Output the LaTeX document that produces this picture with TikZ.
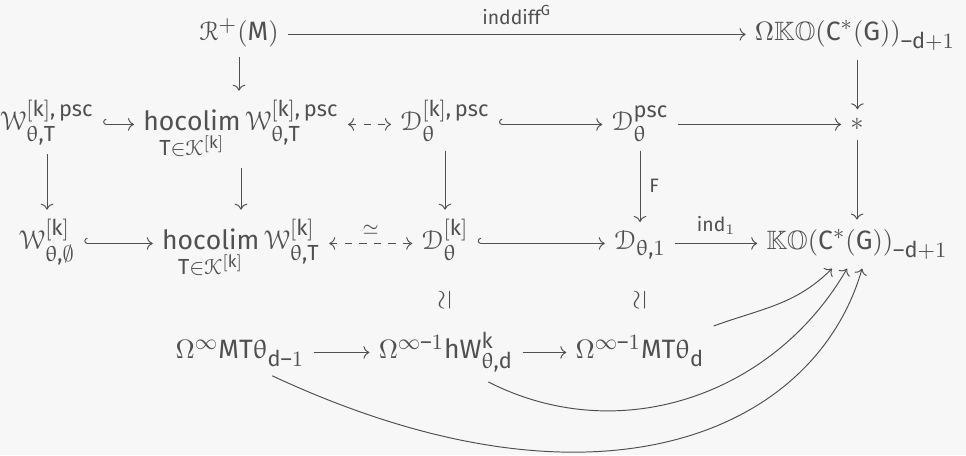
\documentclass[tikz,border=0pt,11pt]{standalone}
\usepackage{amsmath}
\usepackage{amssymb}
\usepackage[mathcal]{euscript}
\usepackage{upgreek}
\usepackage{fontspec}
\setmainfont{Fira Sans}
\usepackage{mathastext}
\usetikzlibrary{arrows.meta}
\tikzset{>={Computer Modern Rightarrow}}
\definecolor{fggray}{RGB}{80,80,80}
\definecolor{bggray}{RGB}{247,247,247}
\newcommand{\thet}{\uptheta}

\begin{document}
\begin{tikzpicture}[x=0.0145cm, y=0.0145cm, fggray,
    every node/.style={anchor=base, text=fggray},
    hk/.style={{Hooks[right]}->},
    da/.style={<->, dashed},
    lbl/.style={font=\scriptsize}]
            % Background and frame
            \fill[bggray] (0,0) rectangle (966,455);
            \useasboundingbox (0,0) rectangle (966,455);

            % Top row
            \node (rm) at (239,414) {$\mathcal{R}^+(M)$};
            \node (okg) at (855,414) {$\Omega\mathbb{KO}(C^*(G))_{-d+1}$};

            % psc row
            \node (wpsc) at (47,324) {$\mathcal{W}^{[k],\,\mathrm{psc}}_{\thet,T}$};
            \node (hpsc) at (241,324) {$\displaystyle\operatorname*{hocolim}_{T\in\mathcal{K}^{[k]}}\mathcal{W}^{[k],\,\mathrm{psc}}_{\thet,T}$};
            \node (dkpsc) at (445,324) {$\mathcal{D}^{[k],\,\mathrm{psc}}_\thet$};
            \node (dpsc) at (640,324) {$\mathcal{D}^{\mathrm{psc}}_\thet$};
            \node (pt) at (857,324) {$*$};

            % Middle row
            \node (wk) at (47,205) {$\mathcal{W}^{[k]}_{\thet,\emptyset}$};
            \node (hk) at (241,205) {$\displaystyle\operatorname*{hocolim}_{T\in\mathcal{K}^{[k]}}\mathcal{W}^{[k]}_{\thet,T}$};
            \node (dk) at (445,205) {$\mathcal{D}^{[k]}_\thet$};
            \node (d1) at (640,205) {$\mathcal{D}_{\thet,1}$};
            \node (ko) at (857,205) {$\mathbb{KO}(C^*(G))_{-d+1}$};

            % Bottom row
            \node (mtd1) at (240,96) {$\Omega^\infty MT\thet_{d-1}$};
            \node (hw) at (446,96) {$\Omega^{\infty-1}hW^k_{\thet,d}$};
            \node (mtd) at (640,96) {$\Omega^{\infty-1}MT\thet_d$};
            \node[rotate=90, anchor=center] (eqa) at (445,155) {$\simeq$};
            \node[rotate=90, anchor=center] (eqb) at (640,155) {$\simeq$};

            % Horizontal maps
            \draw[->] ([yshift=2.7pt]rm.base east) -- node[above, lbl] {$\mathrm{inddiff}^G$} ([yshift=2.7pt]okg.base west);
            \draw[hk] ([yshift=2.7pt]wpsc.base east) -- ([yshift=2.7pt]hpsc.base west);
            \draw[da] ([yshift=2.7pt]hpsc.base east) -- ([yshift=2.7pt]dkpsc.base west);
            \draw[hk] ([yshift=2.7pt]dkpsc.base east) -- ([yshift=2.7pt]dpsc.base west);
            \draw[->] ([yshift=2.7pt]dpsc.base east) -- ([yshift=2.7pt]pt.base west);
            \draw[hk] ([yshift=2.7pt]wk.base east) -- ([yshift=2.7pt]hk.base west);
            \draw[da] ([yshift=2.7pt]hk.base east) -- node[above, lbl] {$\simeq$} ([yshift=2.7pt]dk.base west);
            \draw[hk] ([yshift=2.7pt]dk.base east) -- ([yshift=2.7pt]d1.base west);
            \draw[->] ([yshift=2.7pt]d1.base east) -- node[above, lbl] {$\mathrm{ind}_1$} ([yshift=2.7pt]ko.base west);
            \draw[->] ([yshift=2.7pt]mtd1.base east) -- ([yshift=2.7pt]hw.base west);
            \draw[->] ([yshift=2.7pt]hw.base east) -- ([yshift=2.7pt]mtd.base west);

            % Vertical maps
            \draw[->] (rm.south) -- (rm.south |- hpsc.north);
            \draw[->] ([xshift=1pt]okg.south) -- ([xshift=1pt]okg.south |- pt.north);
            \draw[->] (wpsc.south) -- (wpsc.south |- wk.north);
            \draw[->] (hpsc.south) -- (hpsc.south |- hk.north);
            \draw[->] (dkpsc.south) -- (dkpsc.south |- dk.north);
            \draw[->] (dpsc.south) -- node[right, lbl] {$F$} (dpsc.south |- d1.north);
            \draw[->] (pt.south) -- (pt.south |- ko.north);

            % Curved maps into KO
            \draw[->] (mtd.north east) to[out=20, in=-135] ([xshift=-10.3pt]ko.south);
            \draw[->] (hw.-35) to[out=-27, in=-120] ([xshift=-4.1pt]ko.south);
            \draw[->] (mtd1.-35) .. controls +(-25:360) and +(-106:170) .. ([xshift=2.1pt]ko.south);
        \end{tikzpicture}
\end{document}
